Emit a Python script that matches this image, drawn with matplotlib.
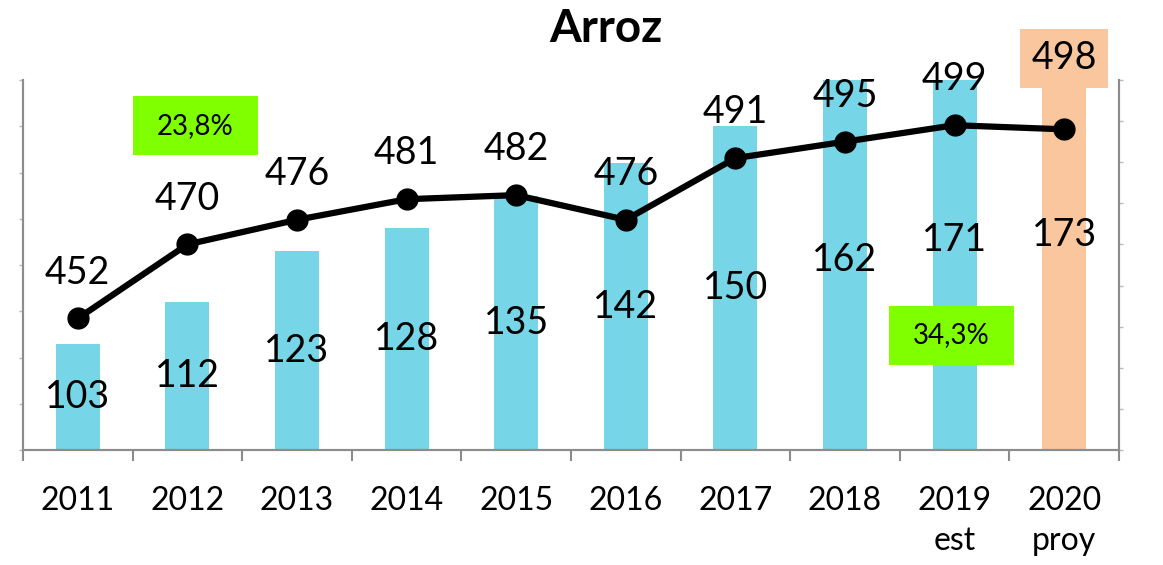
import matplotlib.pyplot as plt
from matplotlib.patches import Rectangle

plt.rcParams['font.family'] = ['Lato', 'DejaVu Sans']

# data
years = ['2011', '2012', '2013', '2014', '2015', '2016', '2017', '2018', '2019\nest', '2020\nproy']
bar_vals = [103, 112, 123, 128, 135, 142, 150, 162, 171, 173]
line_vals = [452, 470, 476, 481, 482, 476, 491, 495, 499, 498]
pct_labels = ['23,8%', '34,3%']

blue = '#77D5E8'
orange = '#FAC69D'
green = '#80FF00'
grey = '#8c8c8c'

fig = plt.figure(figsize=(11.63, 5.65), dpi=100)
ax = fig.add_axes([23/1163, 115/565, 1096/1163, 370/565])
ax2 = ax.twinx()

x = list(range(len(years)))
colors = [blue]*9 + [orange]
ax.bar(x, bar_vals, width=0.4, color=colors, zorder=1)
ax.set_ylim(80, 160)
ax.set_xlim(-0.5, 9.5)

ax2.plot(x, line_vals, color='black', lw=4.5, marker='o', ms=15, zorder=3)
ax2.set_ylim(420, 510)

# bar value labels in the middle of the (unclipped) bar, drawn on the top axes
for i, v in enumerate(bar_vals):
    ax2.text(i, (v + 80)/2, str(v), ha='center', va='center', fontsize=27, zorder=5,
             transform=ax.transData)

for i, v in enumerate(line_vals):
    if i == len(line_vals) - 1:
        ax2.annotate(str(v), (i, v), xytext=(0, 51), textcoords='offset points',
                     ha='center', va='center', fontsize=27, zorder=6,
                     bbox=dict(boxstyle='square,pad=0.3', fc=orange, ec='none'),
                     annotation_clip=False)
    else:
        ax2.annotate(str(v), (i, v), xytext=(0, 33), textcoords='offset points',
                     ha='center', va='center', fontsize=27, zorder=6,
                     annotation_clip=False)

# green percentage boxes
for (cx, cy), lab in zip([(1.074, 150.1), (7.97, 104.8)], pct_labels):
    ax2.add_patch(Rectangle((cx - 0.57, cy - 6.4), 1.14, 12.8, fc=green, ec='none',
                            zorder=4, clip_on=False, transform=ax.transData))
    ax2.text(cx, cy, lab, ha='center', va='center', fontsize=20, zorder=5,
             transform=ax.transData)

# axes styling
for a in (ax, ax2):
    a.spines['top'].set_visible(False)
    for s in ('left', 'right', 'bottom'):
        a.spines[s].set_color(grey)
        a.spines[s].set_linewidth(1.5)

ax.set_yticks(range(80, 161, 10))
ax.set_yticklabels([])
ax.tick_params(axis='y', length=3, color='#bbbbbb', width=1)
ax2.set_yticks(range(420, 511, 10))
ax2.set_yticklabels([])
ax2.tick_params(axis='y', length=3, color='#bbbbbb', width=1)

ax.set_xticks(x)
ax.set_xticklabels(years, fontsize=23, linespacing=1.4)
ax.set_xticks([i - 0.5 for i in range(len(years) + 1)], minor=True)
ax.tick_params(axis='x', which='major', length=0, pad=26)
ax.tick_params(axis='x', which='minor', length=8, color=grey, width=1.5)

fig.text(606/1163, (565-42)/565, 'Arroz', ha='center', va='baseline',
         fontsize=33, fontweight='bold')

fig.savefig('out.png', dpi=100)
